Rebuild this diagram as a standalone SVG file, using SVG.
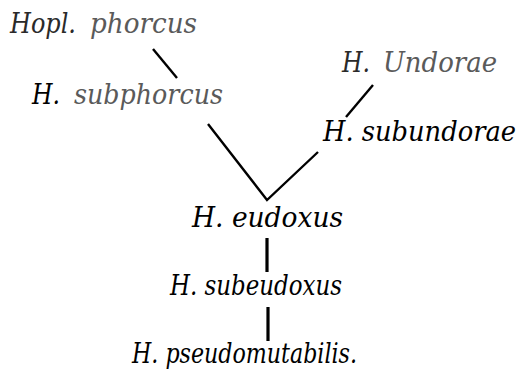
<svg xmlns="http://www.w3.org/2000/svg" width="522" height="373" viewBox="0 0 522 373">
<style>
  .t { font-family: "DejaVu Serif", serif; font-style: italic; font-stretch: condensed; font-size: 28px; fill: #000; }
  .f { fill: #5a5a5a; }
  .d { fill: #2a2a2a; }
  .c { stroke: #000; stroke-width: 2.4; stroke-linecap: butt; fill: none; }
  .v { stroke: #000; stroke-width: 3.2; fill: none; }
</style>
<rect width="522" height="373" fill="#fff"/>
<g id="connectors">
  <line class="c" x1="153" y1="49" x2="177" y2="78"/>
  <line class="c" x1="373" y1="85" x2="346" y2="117"/>
  <polyline class="c" points="208,124 267,200 318,152"/>
  <line class="v" x1="267" y1="238" x2="267" y2="272"/>
  <line class="v" x1="268" y1="307" x2="268" y2="341"/>
</g>
<g id="hopl-phorcus">
  <text class="t d" x="10" y="33" textLength="66" lengthAdjust="spacingAndGlyphs">Hopl.</text>
  <text class="t f" x="90" y="33" textLength="107" lengthAdjust="spacingAndGlyphs">phorcus</text>
</g>
<g id="h-subphorcus">
  <text class="t" x="32" y="104" textLength="28" lengthAdjust="spacingAndGlyphs">H.</text>
  <text class="t f" x="74" y="104" textLength="149" lengthAdjust="spacingAndGlyphs">subphorcus</text>
</g>
<g id="h-undorae">
  <text class="t d" x="342" y="72" textLength="28" lengthAdjust="spacingAndGlyphs">H.</text>
  <text class="t f" x="383" y="72" textLength="114" lengthAdjust="spacingAndGlyphs">Undorae</text>
</g>
<g id="h-subundorae">
  <text class="t" x="323" y="141" textLength="193" lengthAdjust="spacingAndGlyphs">H. subundorae</text>
</g>
<g id="h-eudoxus">
  <text class="t" x="192" y="227" textLength="151" lengthAdjust="spacingAndGlyphs">H. eudoxus</text>
</g>
<g id="h-subeudoxus">
  <text class="t" x="170" y="295" textLength="172" lengthAdjust="spacingAndGlyphs">H. subeudoxus</text>
</g>
<g id="h-pseudomutabilis">
  <text class="t" x="132" y="363" textLength="225" lengthAdjust="spacingAndGlyphs">H. pseudomutabilis.</text>
</g>
</svg>
